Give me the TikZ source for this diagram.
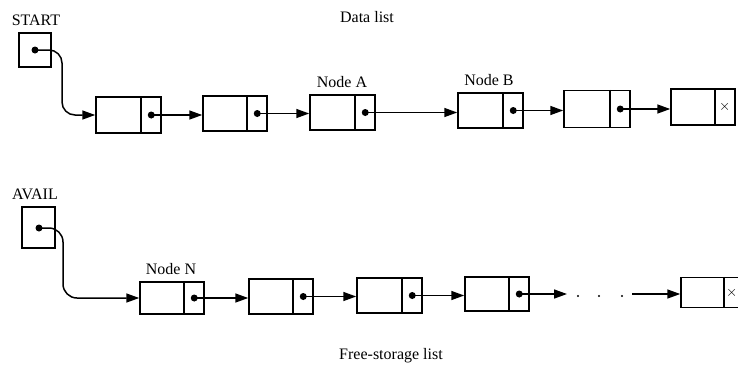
\documentclass[tikz,border=0pt]{standalone}
\usepackage{fontspec}
\setmainfont{Liberation Serif}
\usetikzlibrary{arrows.meta}

\tikzset{
  cell/.style={draw, line width=1.5pt, minimum width=65pt, minimum height=35pt, inner sep=0pt},
  headbox/.style={draw, line width=1.5pt, minimum width=32pt, minimum height=35pt, inner sep=0pt},
  link/.style={line width=1.5pt, -{Triangle[length=13pt,width=9pt]}},
  ptr/.style={circle, fill, inner sep=0pt, minimum size=7pt},
  gapdot/.style={circle, fill, inner sep=0pt, minimum size=2.4pt},
  lbl/.style={font=\fontsize{16}{19}\selectfont, anchor=base, inner sep=0pt},
  nullmark/.style={font=\fontsize{15}{17}\selectfont, inner sep=0pt},
}

% divider line of a list cell
\newcommand\divider[1]{%
  \draw[line width=1.5pt] ([xshift=-21pt]#1.north east) -- ([xshift=-21pt]#1.south east);}
% divider and pointer dot of a list cell
\newcommand\linkfield[1]{%
  \divider{#1}
  \node[ptr] (#1p) at ([xshift=-10.5pt]#1.east) {};}

\begin{document}
\begin{tikzpicture}[x=1pt, y=-1pt]
\useasboundingbox (0,0) rectangle (738,370);

% ---------- data list ----------
\node[lbl] (startlbl) at (36,25) {START};
\node[lbl] (datalbl) at (367,22) {Data list};
\node[headbox, minimum height=34pt] (start) at (35,50) {};
\node[ptr] (startp) at (start.center) {};

\node[cell, minimum height=36pt] (n1) at (128.5,115) {};
\node[cell, minimum width=64pt] (n2) at (235,113.5) {};
\node[cell] (n3) at (342.5,112.5) {};
\node[cell] (n4) at (490.5,110.5) {};
\node[cell, minimum width=66pt, minimum height=37pt] (n5) at (597,109) {};
\node[cell, minimum width=64pt, minimum height=36pt] (n6) at (703,107) {};
\linkfield{n1}\linkfield{n2}\linkfield{n3}\linkfield{n4}\linkfield{n5}
\divider{n6}
\node[nullmark] (n6x) at ([xshift=-11pt]n6.east) {$\times$};

\node[lbl] (alabel) at (342,87) {Node A};
\node[lbl] (blabel) at (489,85) {Node B};

\coordinate (sbend) at (62,50);
\draw[link, rounded corners=13pt] (startp.center) -| (sbend |- n1.west) -- (n1.west);
\draw[link] (n1p.center) -- (n1p.center -| n2.west);
\draw[link] (n2p.center) -- (n2p.center -| n3.west);
\draw[link] (n3p.center) -- (n3p.center -| n4.west);
\draw[link] (n4p.center) -- (n4p.center -| n5.west);
\draw[link] (n5p.center) -- (n5p.center -| n6.west);

% ---------- free-storage list ----------
\node[lbl] (availlbl) at (35,199) {AVAIL};
\node[lbl] (freelbl) at (391,359) {Free-storage list};
\node[headbox, minimum width=33pt, minimum height=41pt] (avail) at (38.5,227.5) {};
\node[ptr] (availp) at (39,228) {};

\node[cell, minimum width=64pt, minimum height=32pt] (m1) at (172,298) {};
\node[cell, minimum width=64pt] (m2) at (281,296.5) {};
\node[cell] (m3) at (389.5,295.5) {};
\node[cell, minimum width=64pt, minimum height=34pt] (m4) at (497,294) {};
\node[cell, minimum width=63pt, minimum height=30pt] (m5) at (712.5,292.5) {};
\linkfield{m1}\linkfield{m2}\linkfield{m3}\linkfield{m4}
\divider{m5}
\node[nullmark] (m5x) at ([xshift=-13pt]m5.east) {$\times$};

\node[lbl] (nlabel) at (171,274) {Node N};

\coordinate (abend) at (63,228);
\draw[link, rounded corners=14pt] (availp.center) -| (abend |- m1.west) -- (m1.west);
\draw[link] (m1p.center) -- (m1p.center -| m2.west);
\draw[link] (m2p.center) -- (m2p.center -| m3.west);
\draw[link] (m3p.center) -- (m3p.center -| m4.west);

% elided cells between the last two shown
\coordinate (gapin) at (567,294);
\coordinate (gapout) at (632,294);
\draw[link] (m4p.center) -- (m4p.center -| gapin);
\node[gapdot] (g1) at (578,296) {};
\node[gapdot] (g2) at (599,296) {};
\node[gapdot] (g3) at (622,296) {};
\draw[link] (gapout) -- (gapout -| m5.west);
\end{tikzpicture}
\end{document}
